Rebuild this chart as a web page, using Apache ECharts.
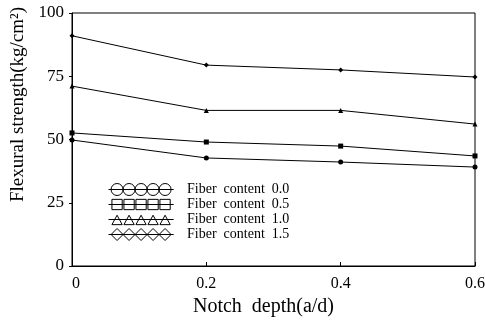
<!DOCTYPE html>
<html>
<head>
<meta charset="utf-8">
<script src="https://cdn.jsdelivr.net/npm/echarts@6/dist/echarts.min.js"></script>
<style>html,body{margin:0;padding:0;background:#fff}#main{width:485px;height:321px}</style>
</head>
<body>
<div id="main"></div>
<script>
var depths = [0, 0.2, 0.4, 0.6];
var names = ['Fiber content 0.0', 'Fiber content 0.5', 'Fiber content 1.0', 'Fiber content 1.5'];
var fc00 = [49.8, 42.7, 41.1, 39.1];
var fc05 = [52.6, 49.0, 47.4, 43.5];
var fc10 = [71.1, 61.5, 61.5, 56.1];
var fc15 = [91.0, 79.4, 77.5, 74.7];
var symbols = ['circle', 'rect', 'triangle', 'diamond'];

// legend icons: a line with five marks on it
function iconPath(kind) {
    var p = 'M0 7 L76 7 ';
    for (var i = 0; i < 5; i++) {
        var x = 3 + i * 14;
        if (kind == 'circle') p += 'M' + x + ' 7 A7 7 0 1 1 ' + (x + 14) + ' 7 A7 7 0 1 1 ' + x + ' 7 ';
        if (kind == 'rect') p += 'M' + (x + 1) + ' 1 L' + (x + 13) + ' 1 L' + (x + 13) + ' 13 L' + (x + 1) + ' 13 Z ';
        if (kind == 'triangle') p += 'M' + (x + 1) + ' 13 L' + (x + 7) + ' 2 L' + (x + 13) + ' 13 Z ';
        if (kind == 'diamond') p += 'M' + x + ' 7 L' + (x + 7) + ' 0 L' + (x + 14) + ' 7 L' + (x + 7) + ' 14 Z ';
    }
    return 'path://' + p + 'M0 0 M0 14';
}

var allData = [fc00, fc05, fc10, fc15];
var font = 'Liberation Serif';

var myChart = echarts.init(document.getElementById('main'));
var option = {
    backgroundColor: '#fff',
    animation: false,
    textStyle: { fontFamily: font, color: '#000' },
    grid: {
        left: 72, right: 10, top: 13, bottom: 55,
        outerBoundsMode: 'none',
        show: true, borderColor: '#000', borderWidth: 1
    },
    legend: {
        left: 103, top: 177,
        orient: 'vertical',
        itemWidth: 68, itemHeight: 12, itemGap: 0,
        data: names.map(function (n, i) {
            return { name: n, icon: iconPath(symbols[i]) };
        }),
        formatter: function (n) { return n.replace(/ /g, '  '); },
        itemStyle: { color: 'transparent', borderColor: '#000', borderWidth: 1 },
        textStyle: { fontFamily: font, fontSize: 14, lineHeight: 15, color: '#000', padding: [0, 0, 0, 7] }
    },
    xAxis: {
        type: 'value', min: 0, max: 0.6, interval: 0.2,
        name: 'Notch  depth(a/d)', nameLocation: 'middle', nameGap: 30,
        nameTextStyle: { fontFamily: font, fontSize: 20, color: '#000', padding: [0, 20, 0, 0] },
        axisLine: { lineStyle: { color: '#000' } },
        axisTick: { inside: true, length: 4, lineStyle: { color: '#000' } },
        axisLabel: { fontFamily: font, fontSize: 16, color: '#000', margin: 10, alignMinLabel: 'left',
            formatter: function (v) { return v === 0 ? '0' : v.toFixed(1); } },
        splitLine: { show: false }
    },
    yAxis: {
        type: 'value', min: 0, max: 100, interval: 25,
        name: 'Flexural strength(kg/cm²)', nameLocation: 'middle', nameGap: 35,
        nameTextStyle: { fontFamily: font, fontSize: 19, color: '#000', padding: [0, 0, 0, 70] },
        axisLine: { lineStyle: { color: '#000' } },
        axisTick: { length: 3, lineStyle: { color: '#000' } },
        axisLabel: { fontFamily: font, fontSize: 17, color: '#000', margin: 8 },
        splitLine: { show: false }
    },
    series: allData.map(function (arr, i) {
        return {
            name: names[i], type: 'line',
            data: depths.map(function (d, j) { return [d, arr[j]]; }),
            symbol: symbols[i], symbolSize: 5,
            itemStyle: { color: '#000' },
            lineStyle: { color: '#000', width: 1 }
        };
    })
};
myChart.setOption(option);
</script>
</body>
</html>
